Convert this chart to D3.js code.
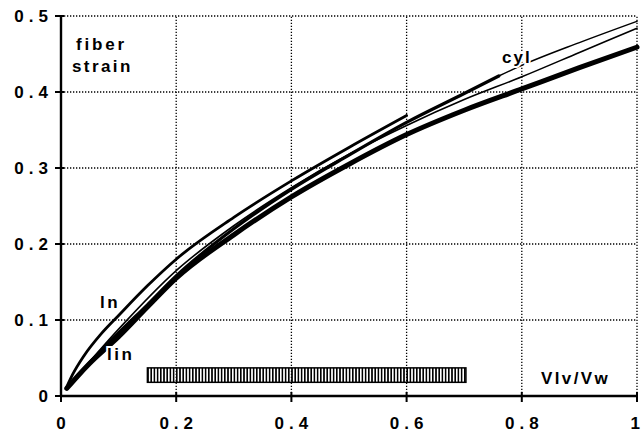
<!DOCTYPE html>
<html>
<head>
<meta charset="utf-8">
<script src="https://cdn.jsdelivr.net/npm/d3@7"></script>
<style>
  body { margin: 0; background: #fff; }
  text { font-family: "Liberation Sans", Arial, sans-serif; font-weight: bold; fill: #000; }
</style>
</head>
<body>
<div id="chart"></div>
<script>
// tick values
const xTicks = [0, 0.2, 0.4, 0.6, 0.8, 1];
const yTicks = [0, 0.1, 0.2, 0.3, 0.4, 0.5];

// curves: [Vlv/Vw, fiber strain]
const thickCurve = [[0.01, 0.01], [0.03, 0.027], [0.05, 0.043], [0.1, 0.078], [0.15, 0.117], [0.2, 0.155],
  [0.3, 0.212], [0.4, 0.262], [0.5, 0.305], [0.6, 0.344], [0.7, 0.376], [0.8, 0.404], [0.9, 0.432], [1.0, 0.459]];
const lnCurve = [[0.01, 0.012], [0.02, 0.028], [0.04, 0.053], [0.07, 0.082], [0.1, 0.106], [0.15, 0.145],
  [0.2, 0.18], [0.3, 0.235], [0.4, 0.283], [0.5, 0.327], [0.6, 0.369]];
const linCurve = [[0.01, 0.01], [0.05, 0.044], [0.1, 0.083], [0.15, 0.12], [0.2, 0.158], [0.3, 0.22],
  [0.4, 0.272], [0.5, 0.317], [0.6, 0.36], [0.7, 0.398], [0.76, 0.421]];
const linTail = [[0.76, 0.421], [0.8, 0.435], [0.9, 0.465], [1.0, 0.493]];
const cylCurve = [[0.01, 0.01], [0.1, 0.088], [0.2, 0.165], [0.3, 0.224], [0.4, 0.274], [0.5, 0.318],
  [0.6, 0.356], [0.7, 0.39], [0.8, 0.42], [0.9, 0.452], [1.0, 0.484]];

// hatched range bar
const rangeBar = { x0: 0.15, x1: 0.703, y0: 0.018, y1: 0.037 };

const width = 642, height = 434;
const margin = { top: 16, right: 5, bottom: 38, left: 61 };

const svg = d3.select('#chart')
  .append('svg')
  .attr('width', width)
  .attr('height', height);

const x = d3.scaleLinear().domain([0, 1]).range([margin.left, width - margin.right]);
const y = d3.scaleLinear().domain([0, 0.5]).range([height - margin.bottom, margin.top]);

// dotted grid
svg.append('g')
  .selectAll('line')
  .data(xTicks.filter(d => d > 0))
  .join('line')
  .attr('x1', d => x(d)).attr('x2', d => x(d))
  .attr('y1', y(0)).attr('y2', y(0.5))
  .attr('stroke', '#000').attr('stroke-width', 1.3)
  .attr('stroke-dasharray', '1.3,1.7');

svg.append('g')
  .selectAll('line')
  .data(yTicks.filter(d => d > 0))
  .join('line')
  .attr('x1', x(0)).attr('x2', x(1))
  .attr('y1', d => y(d)).attr('y2', d => y(d))
  .attr('stroke', '#000').attr('stroke-width', 1.3)
  .attr('stroke-dasharray', '1.3,1.7');

// hatch pattern
const defs = svg.append('defs');
defs.append('pattern')
  .attr('id', 'hatch')
  .attr('patternUnits', 'userSpaceOnUse')
  .attr('width', 3.2).attr('height', 10)
  .append('rect')
  .attr('x', 0).attr('y', 0)
  .attr('width', 1.6).attr('height', 10)
  .attr('fill', '#000');

svg.append('rect')
  .attr('x', x(rangeBar.x0))
  .attr('y', y(rangeBar.y1))
  .attr('width', x(rangeBar.x1) - x(rangeBar.x0))
  .attr('height', y(rangeBar.y0) - y(rangeBar.y1))
  .attr('fill', 'url(#hatch)')
  .attr('stroke', '#000')
  .attr('stroke-width', 1.5);

// curves
const line = d3.line()
  .x(d => x(d[0]))
  .y(d => y(d[1]))
  .curve(d3.curveMonotoneX);

const series = [
  { data: cylCurve, w: 1.6 },
  { data: linTail, w: 1.5 },
  { data: thickCurve, w: 5 },
  { data: linCurve, w: 3.2 },
  { data: lnCurve, w: 2.8 },
];

svg.append('g')
  .selectAll('path')
  .data(series)
  .join('path')
  .attr('d', d => line(d.data))
  .attr('fill', 'none')
  .attr('stroke', '#000')
  .attr('stroke-width', d => d.w)
  .attr('stroke-linecap', 'round');

// axes
const xAxis = svg.append('g');
xAxis.append('line')
  .attr('x1', x(0) - 1).attr('x2', x(1))
  .attr('y1', y(0)).attr('y2', y(0))
  .attr('stroke', '#000').attr('stroke-width', 2.4);
xAxis.selectAll('.tick')
  .data(xTicks)
  .join('line')
  .attr('x1', d => x(d)).attr('x2', d => x(d))
  .attr('y1', y(0) - 4).attr('y2', y(0) + 6)
  .attr('stroke', '#000').attr('stroke-width', 2);
xAxis.selectAll('text')
  .data(xTicks)
  .join('text')
  .attr('x', d => d === 1 ? width - 2 : x(d) + 2.5)
  .attr('y', y(0) + 33)
  .attr('text-anchor', d => d === 1 ? 'end' : 'middle')
  .style('font-size', '17px')
  .style('letter-spacing', d => d === 1 ? '0px' : '5px')
  .text(d => d3.format('')(d));

const yAxis = svg.append('g');
yAxis.append('line')
  .attr('x1', x(0)).attr('x2', x(0))
  .attr('y1', y(0) + 1).attr('y2', y(0.5))
  .attr('stroke', '#000').attr('stroke-width', 2.4);
yAxis.selectAll('.tick')
  .data(yTicks)
  .join('line')
  .attr('x1', x(0) - 6).attr('x2', x(0) + 3)
  .attr('y1', d => y(d)).attr('y2', d => y(d))
  .attr('stroke', '#000').attr('stroke-width', 2);
yAxis.selectAll('text')
  .data(yTicks)
  .join('text')
  .attr('x', x(0) - 13 + 5)
  .attr('y', d => y(d))
  .attr('dy', '0.36em')
  .attr('text-anchor', 'end')
  .style('font-size', '17px')
  .style('letter-spacing', '5px')
  .text(d => d3.format('')(d));

// labels
function label(txt, px, py, size, ls, halo) {
  const t = svg.append('text')
    .attr('x', px).attr('y', py)
    .style('font-size', size + 'px')
    .style('letter-spacing', ls + 'px')
    .text(txt);
  if (halo) {
    t.style('paint-order', 'stroke')
      .style('stroke', '#fff')
      .style('stroke-width', '4px');
  }
  return t;
}

label('fiber', 76, 50, 17, 2.8);
label('strain', 72, 72, 17, 2.4);
label('ln', 100, 308, 17, 2.5);
label('lin', 107, 360, 17, 2.5, true);
label('cyl', 502, 63, 17, 2, true);
label('Vlv/Vw', 541, 384, 17, 2.4);
</script>
</body>
</html>
